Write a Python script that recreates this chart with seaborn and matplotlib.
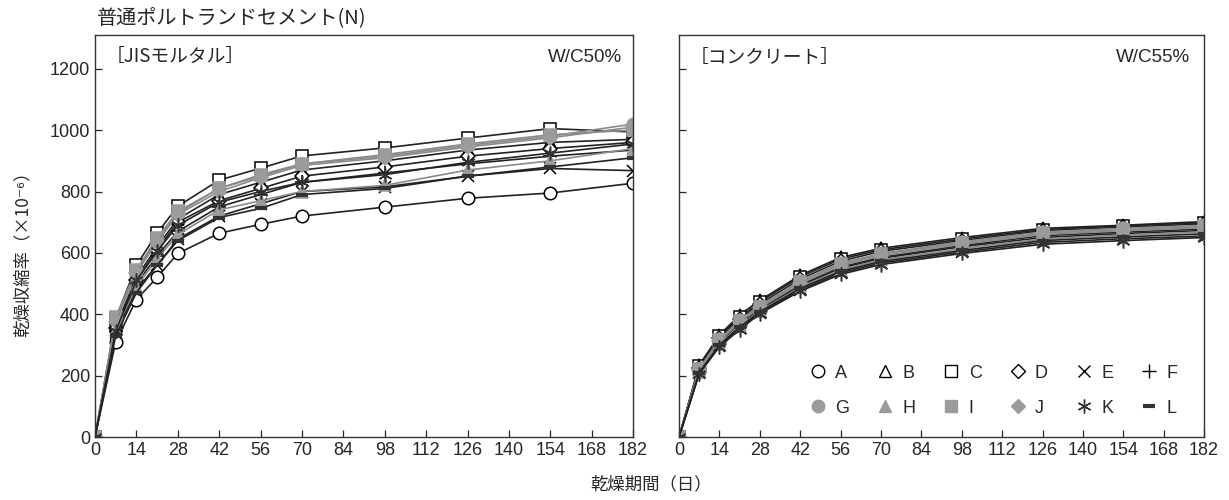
import numpy as np
import pandas as pd
import seaborn as sns
import matplotlib.pyplot as plt
from matplotlib.lines import Line2D

sns.set_style("ticks")
plt.rcParams['font.family'] = ['Liberation Sans', 'Noto Sans CJK JP', 'DejaVu Sans']
JP = ['Noto Sans CJK JP', 'Liberation Sans', 'DejaVu Sans']

days = [0, 7, 14, 21, 28, 42, 56, 70, 98, 126, 154, 182]
names = ['A', 'B', 'C', 'D', 'E', 'F', 'G', 'H', 'I', 'J', 'K', 'L']

# JIS mortar, W/C50%
mortar = {
    'A': [0, 310, 448, 520, 598, 664, 693, 720, 749, 778, 795, 827],
    'B': [0, 360, 520, 620, 710, 790, 830, 870, 900, 935, 960, 970],
    'C': [0, 385, 559, 664, 752, 837, 876, 916, 942, 974, 1005, 994],
    'D': [0, 355, 510, 610, 700, 770, 810, 850, 880, 915, 940, 960],
    'E': [0, 340, 480, 560, 645, 720, 760, 800, 815, 850, 875, 868],
    'F': [0, 345, 500, 590, 670, 750, 790, 830, 860, 890, 915, 935],
    'G': [0, 380, 540, 640, 730, 810, 850, 890, 915, 950, 980, 1020],
    'H': [0, 350, 490, 580, 660, 740, 770, 800, 820, 870, 900, 940],
    'I': [0, 390, 545, 650, 735, 810, 855, 890, 920, 955, 985, 1000],
    'J': [0, 375, 535, 635, 725, 800, 845, 885, 910, 945, 975, 1010],
    'K': [0, 345, 510, 605, 690, 765, 800, 830, 855, 895, 925, 955],
    'L': [0, 330, 470, 560, 640, 715, 745, 790, 810, 850, 880, 910],
}

# concrete, W/C55%
concrete = {
    'A': [0, 214, 307, 367, 415, 493, 550, 582, 620, 650, 663, 673],
    'B': [0, 235, 332, 398, 445, 527, 585, 615, 650, 680, 690, 702],
    'C': [0, 230, 328, 390, 440, 522, 580, 610, 645, 676, 688, 698],
    'D': [0, 225, 322, 385, 433, 515, 573, 605, 640, 672, 684, 694],
    'E': [0, 208, 297, 354, 405, 479, 535, 567, 603, 634, 646, 655],
    'F': [0, 216, 310, 371, 418, 497, 554, 586, 624, 656, 668, 678],
    'G': [0, 222, 318, 380, 428, 508, 567, 598, 636, 668, 680, 690],
    'H': [0, 212, 303, 363, 411, 488, 545, 577, 614, 645, 658, 668],
    'I': [0, 220, 315, 378, 425, 505, 563, 595, 632, 664, 676, 686],
    'J': [0, 218, 312, 374, 421, 500, 558, 590, 628, 660, 672, 682],
    'K': [0, 206, 294, 350, 402, 475, 530, 562, 598, 628, 640, 650],
    'L': [0, 210, 300, 358, 408, 484, 540, 572, 608, 640, 652, 662],
}

GRAY = '#9b9b9b'
style = {
    'A': dict(marker='o', mfc='white', mec='black', ms=9),
    'B': dict(marker='^', mfc='white', mec='black', ms=9),
    'C': dict(marker='s', mfc='white', mec='black', ms=9),
    'D': dict(marker='D', mfc='white', mec='black', ms=7),
    'E': dict(marker='x', mfc='black', mec='black', ms=9),
    'F': dict(marker='+', mfc='black', mec='black', ms=10),
    'G': dict(marker='o', mfc=GRAY, mec=GRAY, ms=9),
    'H': dict(marker='^', mfc=GRAY, mec=GRAY, ms=9),
    'I': dict(marker='s', mfc=GRAY, mec=GRAY, ms=9),
    'J': dict(marker='D', mfc=GRAY, mec=GRAY, ms=7),
    'K': dict(marker=(6, 2, 0), mfc='#333333', mec='#333333', ms=10),
    'L': dict(marker='_', mfc='#333333', mec='#333333', ms=8),
}
line_col = {n: ('#8a8a8a' if n in 'GHIJ' else '#222222') for n in names}

fig = plt.figure(figsize=(12.29, 5), dpi=100)
ax1 = fig.add_axes([0.0773, 0.126, 0.4378, 0.804])
ax2 = fig.add_axes([0.5525, 0.126, 0.4272, 0.804])


def draw(ax, data):
    for n in names:
        df = pd.DataFrame({'day': days, 'val': data[n]})
        st = style[n]
        mew = 3 if n == 'L' else 1.1
        sns.lineplot(data=df, x='day', y='val', ax=ax, color=line_col[n],
                     linewidth=1.2, marker=st['marker'], markersize=st['ms'],
                     markerfacecolor=st['mfc'], markeredgecolor=st['mec'],
                     markeredgewidth=mew, errorbar=None, legend=False)
    ax.set_xlim(0, 182)
    ax.set_ylim(0, 1310)
    ax.set_xticks(np.arange(0, 183, 14))
    ax.set_yticks(np.arange(0, 1201, 200))
    ax.tick_params(direction='in', length=5, labelsize=13, width=0.9)
    ax.set_xlabel('')
    ax.set_ylabel('')
    for s in ax.spines.values():
        s.set_linewidth(1.0)
        s.set_color('#333333')


draw(ax1, mortar)
draw(ax2, concrete)
ax2.set_yticklabels([])

ax1.text(0.02, 0.945, '［JISモルタル］', transform=ax1.transAxes, fontsize=13.5,
         va='center', family=JP)
ax1.text(0.98, 0.945, 'W/C50%', transform=ax1.transAxes, fontsize=13.5, va='center', ha='right')
ax2.text(0.02, 0.945, '［コンクリート］', transform=ax2.transAxes, fontsize=13.5,
         va='center', family=JP)
ax2.text(0.973, 0.945, 'W/C55%', transform=ax2.transAxes, fontsize=13.5, va='center', ha='right')

fig.text(0.079, 0.965, '普通ポルトランドセメント(N)', fontsize=14.5, va='center', family=JP)
fig.text(0.018, 0.50, '乾燥収縮率（×10⁻⁶）', rotation=90, fontsize=12.5, va='center',
         ha='center', family=JP)
fig.text(0.53, 0.032, '乾燥期間（日）', fontsize=12.5, va='center', ha='center', family=JP)

# legend: two rows (A-F / G-L)
handles, labels = [], []
for a, b in zip(names[:6], names[6:]):
    for n in (a, b):
        st = style[n]
        handles.append(Line2D([], [], linestyle='none', marker=st['marker'],
                              markersize=st['ms'], markerfacecolor=st['mfc'],
                              markeredgecolor=st['mec'],
                              markeredgewidth=3 if n == 'L' else 1.0))
        labels.append(n)
ax2.legend(handles, labels, ncol=6, loc='lower right', bbox_to_anchor=(0.98, 0.01),
           frameon=False, fontsize=13, handletextpad=0.45, columnspacing=1.5,
           labelspacing=1.0, handlelength=1.0)

fig.savefig('out.png', dpi=100)
